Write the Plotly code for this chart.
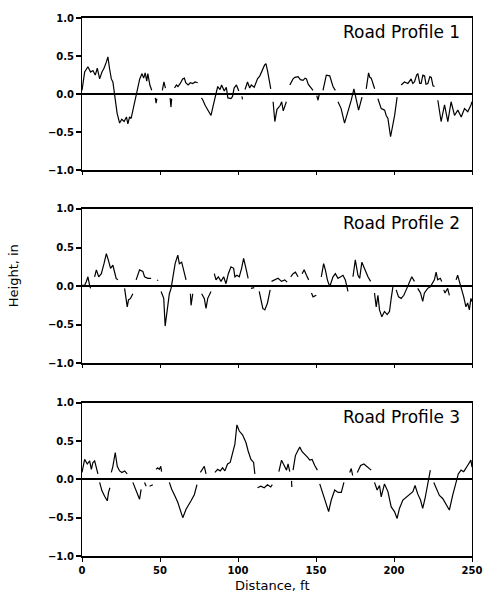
import plotly.graph_objects as go
from plotly.subplots import make_subplots

N = None

# Road Profile 1
distance_1 = [0, 1.7, 3.8, 5.5, 7, 8.5, 9.8, 11.3, 12.8, 14.1, 15.6, 16.6, 17.7, 18.8, 19.8, 20.5,
              21.3, 22.5, 24.1, 25.5, 27, 28.5, 29.4, 30.5, 31.5, 33, 34.7, 35.8, 37, 38.5, 39.5, 40.5,
              41.5, 42.2, 43.5, 44.7, N, 47, 47.5, 48, N, 51.5, 52.5, 53.5, N, 56.5, 57, 57.5, N,
              59.3, 60.5, 61.5, 63, 64.5, 65.6, 66.5, 68, 69.5, 71, 72.5, 74.2, N,
              76.5, 77.3, 79, 80.6, 81.5, 82.7, 84, 85.9, 87, 88.5, 89.5, 91.2, 92.5, 93.5, 95.5,
              96.5, 97.5, 99, 100.5, N, 102.5, 102.9, N, 104.5, 106.1, 107.5, 108.5, 110.4, 112.5,
              114, 115.7, 117, 117.9, 119, 121, N, 122.5, 123.6, 125, 127, 128, 129, 131, N,
              133.2, 135.3, 136.5, 138.5, 140, 141.7, 143, 143.9, 145, 146, 148.1, N,
              150.5, 151.3, 152, N, 154.5, 155.5, 156.6, 158.8, 160, 160.9, 162.4, N,
              164.1, 166.1, 168.3, 170.5, 172.6, 174.3, 175.8, 177.3, 179.5, N,
              182.2, 183.7, 184.5, 185.4, 187.6, N, 189.7, 191.8, 193, 194, 195, 196.1, 197.8,
              200.4, 202, N, 204.6, 206.7, 208.9, 210, 211, 212, 213.1, 214.5, 215.3, 216.5, 217.4,
              218.5, 219.6, 220.5, 221.7, 223, 223.9, 225, 226, N,
              228.1, 230.2, 232.4, 234.5, 236.6, 238.8, 240.9, 243.1, 245.2, 247.3, 249.4, 250]
height_1 = [0.05, 0.29, 0.36, 0.29, 0.31, 0.25, 0.34, 0.20, 0.29, 0.34, 0.42, 0.49, 0.33, 0.2, 0.16, 0.05,
            -0.06, -0.25, -0.38, -0.33, -0.36, -0.30, -0.39, -0.30, -0.32, -0.18, -0.02, 0.12, 0.20, 0.27, 0.21, 0.28,
            0.17, 0.27, 0.12, 0.05, N, -0.05, -0.12, -0.06, N, 0.05, 0.16, 0.08, N, -0.05, -0.17, -0.06, N,
            0.08, 0.12, 0.10, 0.14, 0.20, 0.21, 0.15, 0.12, 0.15, 0.14, 0.16, 0.15, N,
            -0.05, -0.07, -0.15, -0.2, -0.23, -0.28, -0.16, 0.0, 0.10, 0.06, 0.12, 0.04, 0.09, -0.05, -0.06,
            -0.03, 0.08, 0.12, 0.04, N, -0.03, -0.07, N, 0.06, 0.16, 0.08, 0.12, 0.09, 0.2,
            0.24, 0.33, 0.38, 0.40, 0.30, 0.07, N, -0.1, -0.36, -0.2, -0.15, -0.10, -0.22, -0.10, N,
            0.12, 0.2, 0.22, 0.23, 0.19, 0.18, 0.21, 0.20, 0.13, 0.10, 0.05, N,
            -0.02, -0.08, -0.01, N, 0.05, 0.15, 0.25, 0.24, 0.15, 0.10, 0.05, N,
            -0.1, -0.19, -0.38, -0.23, -0.08, 0.07, -0.08, -0.21, -0.04, N,
            0.07, 0.28, 0.22, 0.21, 0.07, N, -0.06, -0.19, -0.20, -0.21, -0.28, -0.32, -0.56,
            -0.28, -0.04, N, 0.12, 0.16, 0.14, 0.18, 0.2, 0.14, 0.16, 0.25, 0.27, 0.14, 0.14,
            0.25, 0.24, 0.13, 0.14, 0.23, 0.22, 0.11, 0.10, N,
            -0.08, -0.36, -0.14, -0.36, -0.10, -0.28, -0.21, -0.30, -0.19, -0.23, -0.14, -0.1]

# Road Profile 2
distance_2 = [0, 1.7, 2.8, 3.8, 4.9, 5.5, N, 8.1, 9.2, 10.7, 12.4, 14.1, 15.6, 17.0, 18.3, 19.8, 20.9,
              21.9, 23.0, N, 27.3, 29.0, 29.8, 31.1, 32.6, N, 34.7, 36.9, 39.0, 40.1, 42.2, 44.3, N,
              48.2, 48.8, N, 50.7, 52.4, 53.3, 54.6, 56.0, 57.1, 58.2, 59.7, 61.4, 62.4, 63.9, 65.2, 66.7, N,
              69.5, 69.9, 71.0, N, 76.7, 78.4, 79.5, 80.6, 82.7, N, 84.8, 85.9, 87.4, 89.1, 90.8, 92.3,
              93.8, 95.5, 97.2, 98.0, 99.3, 100.8, 102.3, 103.6, 105.1, 106.5, N, 108.3, 110.4, N,
              113.6, 114.6, 115.9, 117.2, 118.9, 120.6, N, 121.5, 123.6, 125.7, 127.9, 130, 131.5, N,
              133.8, 135.3, 136.8, 138.5, N, 141.1, 142.4, 143.9, 145.3, N, 147.1, 148.1, 150.2, N,
              153.4, 154.9, 156, 157.3, 158.8, 160.9, 162.4, 164.1, 165.8, 167.3, 168.8, 170.5, N,
              173.7, 175.2, 176.9, 178, 179.4, 181.2, 183.3, 185, N, 187.5, 188.6, 189.7, 190.7, 192.2,
              193.9, 195.6, 197.1, 198.2, 199.3, N, 201.4, 202.9, 204.6, 206.3, 207.8, 209.9, 211.4,
              213.1, N, 215.2, 217, 218.4, 219.5, 221.6, 223.3, 225.9, 227, 228, 229.7, 230.6, N,
              231.9, 232.7, 234.4, 235.5, N, 239.8, 240.8, 241.9, 243, 244.7, 246.1, 247.2, 248.3,
              249.3, 250]
height_2 = [0.01, 0.01, 0.06, 0.12, 0.01, -0.03, N, 0.12, 0.21, 0.12, 0.16, 0.29, 0.42, 0.33, 0.23, 0.27, 0.16,
            0.10, 0.08, N, -0.03, -0.27, -0.18, -0.16, -0.10, N, 0.08, 0.21, 0.19, 0.12, 0.10, 0.10, N,
            0.08, 0.07, N, -0.07, -0.16, -0.52, -0.31, -0.10, -0.03, 0.10, 0.29, 0.40, 0.29, 0.31, 0.21, 0.08, N,
            -0.10, -0.25, -0.10, N, -0.10, -0.16, -0.29, -0.16, -0.07, N, 0.16, 0.08, 0.12, 0.06, 0.12, 0.03,
            0.16, 0.25, 0.23, 0.12, 0.14, 0.12, 0.23, 0.36, 0.23, 0.10, N, -0.03, -0.02, N,
            -0.07, -0.18, -0.29, -0.31, -0.22, -0.05, N, 0.06, 0.08, 0.10, 0.06, 0.08, 0.05, N,
            0.12, 0.16, 0.18, 0.12, N, 0.16, 0.21, 0.14, 0.08, N, -0.09, -0.14, -0.12, N,
            0.12, 0.29, 0.21, 0.08, -0.01, 0.12, 0.16, 0.10, 0.12, 0.14, 0.08, -0.07, N,
            0.12, 0.34, 0.14, 0.10, 0.31, 0.21, 0.12, 0.06, N, -0.09, -0.27, -0.12, -0.31, -0.40,
            -0.33, -0.37, -0.33, -0.16, -0.01, N, -0.05, -0.14, -0.16, -0.12, -0.05, 0.06, 0.12,
            0.06, N, -0.03, -0.09, -0.20, -0.09, -0.03, -0.01, 0.08, 0.18, 0.08, 0.10, 0.06, N,
            -0.05, -0.09, -0.03, -0.12, N, 0.08, 0.14, 0.06, -0.01, -0.14, -0.27, -0.22, -0.31,
            -0.16, -0.2]

# Road Profile 3
distance_3 = [0, 1.7, 3.4, 4.9, 6.0, 7.0, 8.1, 9.2, 10.2, N, 11.3, 12.8, 14.5, 16.2, 17.0, 17.9, N,
              18.8, 19.8, 21.3, 22.6, 24.1, 25.6, 27.3, 29.0, N, 32.6, 34.1, 35.8, 36.9, 37.9, N,
              40.1, 41.1, N, 43.3, 45.4, N, 47.5, 48.5, 49.6, 50.5, 51.0, N,
              56, 57.5, 59.2, 61.4, 64.6, 66.7, 69.9, 72.0, 73.7, N, 75.9, 77.4, 78.4, 79.5, N,
              85.2, 87, 88.6, 90.1, 91.6, 93.3, 95, 96.5, 98, 99.3, 100.8, 102.9, 105.1, 106.5, 108.3,
              110, 110.8, N, 112.5, 114.6, 116.8, 118.9, 121, 122, N,
              126.2, 127.9, 129.6, 131.1, 132.1, 133.2, N, 134.3, 134.5, N,
              135.3, 136.8, 138.5, 139.6, 141.1, 142.8, 144.5, 146, 147.5, 149.2, 150.9, N,
              152.4, 154.5, 156.6, 158.1, 159.8, 162, 164.1, 166.2, 167.9, N, 171.6, 172.6, 173.5, N,
              176.5, 178.6, 180.7, 183.3, 185.4, N, 187.5, 189.2, 190.7, 191.8, 193.9, 196.1, 198.2,
              200.3, 202, 203.5, 205.7, 207.8, 209.9, 212.1, 213.5, 215.2, 217, 218.4, 219.9, 221.6,
              223.3, N, 225.5, 227, 229.1, 231.2, 233.4, 235.5, 237.6, 239.8, 241.2, 243, 244.7, 247.2,
              249.3, 250]
height_3 = [0.09, 0.26, 0.20, 0.24, 0.13, 0.22, 0.24, 0.15, 0.07, N, -0.04, -0.15, -0.22, -0.28, -0.17, -0.11, N,
            0.09, 0.17, 0.35, 0.17, 0.11, 0.09, 0.11, 0.07, N, -0.04, -0.11, -0.2, -0.26, -0.13, N,
            -0.04, -0.09, N, -0.09, -0.07, N, 0.13, 0.15, 0.13, 0.17, 0.10, N,
            -0.04, -0.13, -0.2, -0.30, -0.50, -0.39, -0.28, -0.20, -0.07, N, 0.09, 0.13, 0.17, 0.07, N,
            0.09, 0.13, 0.11, 0.15, 0.11, 0.20, 0.22, 0.33, 0.46, 0.71, 0.63, 0.58, 0.48, 0.37, 0.26,
            0.22, 0.07, N, -0.11, -0.09, -0.11, -0.07, -0.10, -0.07, N,
            0.10, 0.25, 0.18, 0.12, 0.20, 0.10, N, -0.02, -0.10, N,
            0.12, 0.31, 0.38, 0.42, 0.36, 0.33, 0.29, 0.25, 0.26, 0.18, 0.12, N,
            -0.06, -0.19, -0.32, -0.42, -0.27, -0.14, -0.17, -0.17, -0.04, N, 0.09, 0.14, 0.05, N,
            0.09, 0.18, 0.20, 0.16, 0.12, N, -0.04, -0.14, -0.08, -0.23, -0.06, -0.16, -0.36,
            -0.42, -0.51, -0.38, -0.27, -0.23, -0.19, -0.16, -0.08, -0.19, -0.27, -0.38, -0.25, -0.08,
            0.12, N, -0.04, -0.12, -0.21, -0.25, -0.32, -0.40, -0.21, -0.04, 0.07, 0.12, 0.10, 0.18,
            0.25, 0.16]

titles = ["Road Profile 1", "Road Profile 2", "Road Profile 3"]
x_ticks = [0, 50, 100, 150, 200, 250]
y_ticks = [-1.0, -0.5, 0.0, 0.5, 1.0]

series = [(distance_1, height_1), (distance_2, height_2), (distance_3, height_3)]

fig = make_subplots(rows=3, cols=1, shared_xaxes=False, vertical_spacing=0.0)

domains = [[0.717, 1.0], [0.3586, 0.645], [0.0, 0.285]]
FONT = "DejaVu Sans"

for i, (xs, ys) in enumerate(series):
    r = i + 1
    fig.add_trace(go.Scatter(x=xs, y=ys, mode="lines", connectgaps=False,
                             line=dict(color="black", width=1.2), showlegend=False,
                             hoverinfo="skip"), row=r, col=1)
    fig.update_xaxes(row=r, col=1, range=[0, 250], tickvals=x_ticks,
                     showticklabels=(r == 3), ticks="outside", ticklen=3 if r < 3 else 4,
                     tickwidth=1, tickcolor="black",
                     showline=True, linewidth=2, linecolor="black", mirror=True,
                     showgrid=False, zeroline=False,
                     tickfont=dict(family=FONT, size=10, color="black", weight="bold"))
    fig.update_yaxes(row=r, col=1, range=[-1, 1], tickvals=y_ticks, tickformat=".1f",
                     ticks="outside", ticklen=5, tickwidth=1.5, tickcolor="black",
                     showline=True, linewidth=1, linecolor="black", mirror=True,
                     showgrid=False, zeroline=True, zerolinewidth=2, zerolinecolor="black",
                     domain=domains[i],
                     tickfont=dict(family=FONT, size=10, color="black", weight="bold"))
    yref = "y domain" if r == 1 else f"y{r} domain"
    xref = "x domain" if r == 1 else f"x{r} domain"
    fig.add_annotation(text=titles[i], xref=xref, yref=yref, x=0.975, y=1.0, yshift=-2,
                       xanchor="right", yanchor="top", showarrow=False,
                       font=dict(family=FONT, size=17, color="black"))

fig.add_annotation(text="Distance, ft", xref="paper", yref="paper", x=0.488, y=0,
                   xanchor="center", yanchor="top", yshift=-20, showarrow=False,
                   font=dict(family=FONT, size=13, color="black"))
fig.add_annotation(text="Height, in", xref="paper", yref="paper", x=0, y=0.52,
                   xanchor="center", yanchor="middle", xshift=-69, textangle=-90,
                   showarrow=False, font=dict(family=FONT, size=13, color="black"))

fig.update_layout(width=494, height=596, margin=dict(l=82, r=21, t=15, b=40),
                  plot_bgcolor="white", paper_bgcolor="white", hovermode=False)

fig.write_html("out.html", config={"displayModeBar": False},
               post_script="document.body.style.margin='0';")
